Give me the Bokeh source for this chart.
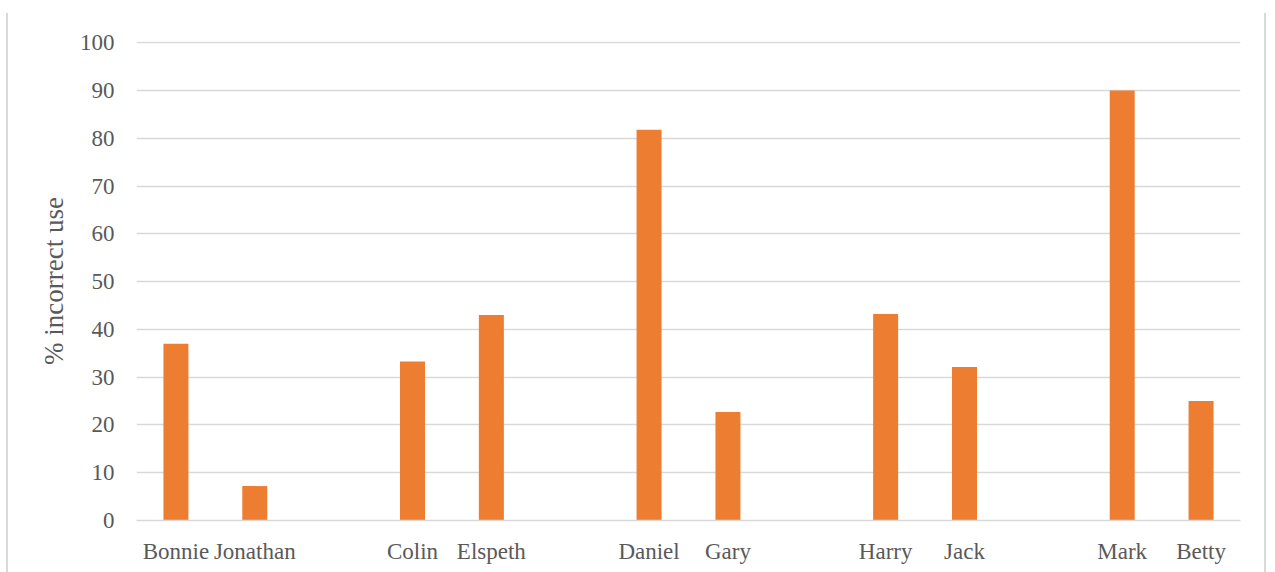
from bokeh.plotting import figure
from bokeh.models import FactorRange, Range1d, FixedTicker
from bokeh.embed import file_html
from bokeh.resources import INLINE

# Speakers grouped in pairs; blank slots separate the pairs
slots = ["Bonnie", "Jonathan", " ", "Colin", "Elspeth", "  ", "Daniel", "Gary", "   ",
         "Harry", "Jack", "    ", "Mark", "Betty"]
speakers = ["Bonnie", "Jonathan", "Colin", "Elspeth", "Daniel", "Gary",
            "Harry", "Jack", "Mark", "Betty"]
incorrect_pct = [37.0, 7.2, 33.3, 43.0, 81.8, 22.7, 43.2, 32.1, 90.0, 25.0]
y_ticks = [0, 10, 20, 30, 40, 50, 60, 70, 80, 90, 100]

FONT = "Liberation Serif"
TEXT = "#595959"
GRID = "#d9d9d9"
ORANGE = "#ED7D31"

p = figure(
    width=1260, height=559,
    x_range=FactorRange(factors=slots, range_padding=0, factor_padding=0),
    y_range=Range1d(0, 100.25),
    output_backend="svg", toolbar_location=None,
    min_border_left=128, min_border_right=28,
    min_border_top=28, min_border_bottom=52,
)
# chart area: thin grey edges left and right
p.margin = (13, 0, 0, 6)
p.styles = {"border-left": f"2px solid {GRID}", "border-right": f"2px solid {GRID}"}
p.outline_line_color = None

p.vbar(x=speakers, top=incorrect_pct, width=0.317, color=ORANGE, line_color=None)

# y axis
p.yaxis.ticker = FixedTicker(ticks=y_ticks)
p.yaxis.axis_line_color = None
p.yaxis.major_tick_line_color = None
p.yaxis.minor_tick_line_color = None
p.yaxis.major_label_standoff = 16
p.yaxis.major_label_text_font = FONT
p.yaxis.major_label_text_font_size = "23px"
p.yaxis.major_label_text_color = TEXT
p.yaxis.axis_label = "% incorrect use"
p.yaxis.axis_label_text_font = FONT
p.yaxis.axis_label_text_font_size = "27px"
p.yaxis.axis_label_text_font_style = "normal"
p.yaxis.axis_label_text_color = TEXT
p.yaxis.axis_label_standoff = 8

# x axis
p.xaxis.axis_line_color = GRID
p.xaxis.axis_line_width = 1.5
p.xaxis.major_tick_line_color = None
p.xaxis.minor_tick_line_color = None
p.xaxis.major_label_standoff = 12
p.xaxis.major_label_text_font = FONT
p.xaxis.major_label_text_font_size = "23px"
p.xaxis.major_label_text_color = TEXT

p.xgrid.grid_line_color = None
p.ygrid.grid_line_color = GRID
p.ygrid.grid_line_width = 1.5

open("out.html", "w").write(file_html(p, INLINE))
